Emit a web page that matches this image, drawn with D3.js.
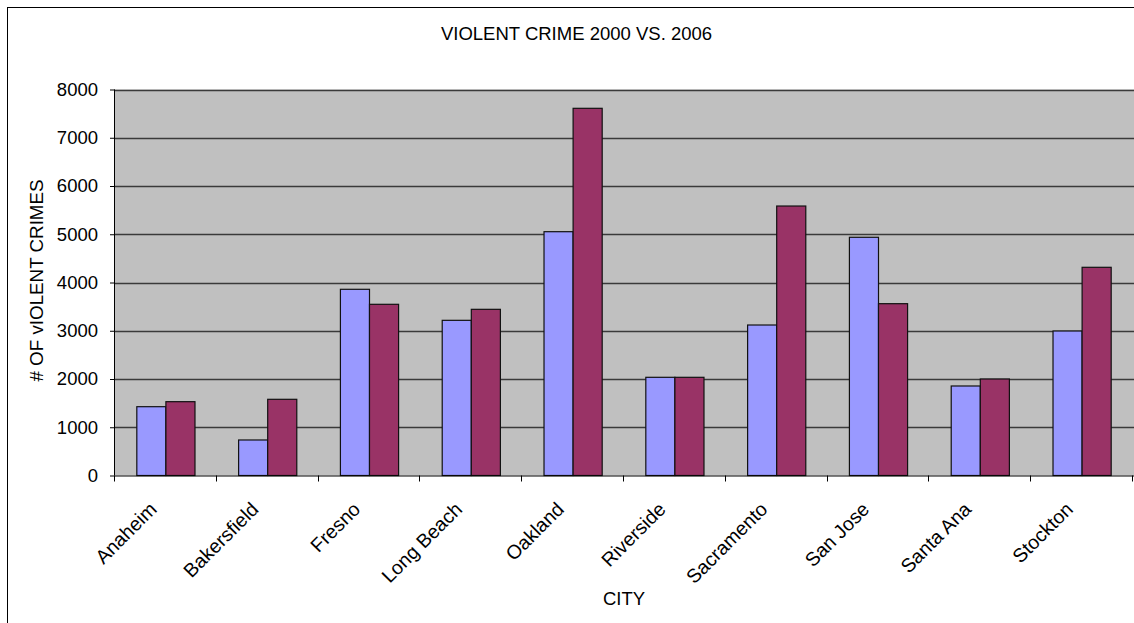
<!DOCTYPE html>
<html>
<head>
<meta charset="utf-8">
<script src="https://cdn.jsdelivr.net/npm/d3@7"></script>
<style>
  html, body { margin: 0; padding: 0; background: #fff; }
  svg { display: block; }
  text { font-family: "Liberation Sans", Arial, sans-serif; fill: #000; }
</style>
</head>
<body>
<svg id="chart" width="1134" height="623"></svg>
<script>
const cities = ["Anaheim", "Bakersfield", "Fresno", "Long Beach", "Oakland", "Riverside", "Sacramento", "San Jose", "Santa Ana", "Stockton"];
const series = ["2000", "2006"];
const values2000 = [1426, 736, 3859, 3216, 5053, 2035, 3119, 4937, 1855, 2995];
const values2006 = [1530, 1579, 3548, 3444, 7610, 2035, 5585, 3561, 2000, 4315];
const yTicks = [0, 1000, 2000, 3000, 4000, 5000, 6000, 7000, 8000];
const colors = ["#9999FF", "#993366"];
const title = "VIOLENT CRIME 2000 VS. 2006";
const xTitle = "CITY";
const yTitle = "# OF vIOLENT CRIMES";

const svg = d3.select("#chart");
const plot = { left: 115, right: 1133, top: 89.5, bottom: 475.5 };

// chart border
svg.append("rect").attr("x", 7.5).attr("y", 7.5).attr("width", 1200).attr("height", 700)
  .attr("fill", "#fff").attr("stroke", "#000").attr("stroke-width", 1);

const x = d3.scaleBand().domain(cities).range([plot.left, plot.right]).paddingInner(0).paddingOuter(0);
const y = d3.scaleLinear().domain([0, 8000]).range([plot.bottom, plot.top]);
// gap width 150%: bar = step / 3.5
const barW = x.step() / 3.5;
const xs = d3.scaleBand().domain(series).range([0, barW * 2]);

// plot background
svg.append("rect").attr("x", plot.left).attr("y", plot.top)
  .attr("width", plot.right - plot.left + 2).attr("height", plot.bottom - plot.top)
  .attr("fill", "#C0C0C0");

// gridlines
svg.append("g").selectAll("line").data(yTicks.filter(d => d > 0)).join("line")
  .attr("x1", plot.left).attr("x2", plot.right + 2)
  .attr("y1", d => Math.round(y(d)) + 0.5).attr("y2", d => Math.round(y(d)) + 0.5)
  .attr("stroke", "#3a3a3a").attr("stroke-width", 1.4);

// bars
const data = cities.map((c, i) => ({ city: c, vals: [values2000[i], values2006[i]] }));
const groups = svg.append("g").selectAll("g").data(data).join("g")
  .attr("transform", d => `translate(${x(d.city) + (x.step() - barW * 2) / 2},0)`);
groups.selectAll("rect").data(d => d.vals.map((v, k) => ({ v, s: series[k], k }))).join("rect")
  .attr("x", d => xs(d.s))
  .attr("y", d => y(d.v))
  .attr("width", xs.bandwidth())
  .attr("height", d => plot.bottom - y(d.v))
  .attr("fill", d => colors[d.k])
  .attr("stroke", "#111").attr("stroke-width", 1.2);

// y axis
const yAxis = d3.axisLeft(y).tickValues(yTicks).tickSize(5).tickPadding(12).tickFormat(d3.format("d"));
const gy = svg.append("g").attr("transform", `translate(${plot.left},0)`).call(yAxis);
gy.select(".domain").attr("stroke", "#000").attr("d", `M-0.5,${plot.top}V${plot.bottom}`);
gy.selectAll(".tick line").attr("stroke", "#000");
gy.selectAll(".tick text").attr("font-size", "18.5px").attr("font-family", "Liberation Sans, Arial, sans-serif").attr("fill", "#000");

// x axis line
svg.append("line").attr("x1", plot.left).attr("x2", plot.right + 2)
  .attr("y1", plot.bottom + 0.5).attr("y2", plot.bottom + 0.5).attr("stroke", "#000");
// x ticks at band boundaries
const bounds = cities.map(c => x(c)).concat([plot.right]);
svg.append("g").selectAll("line").data(bounds).join("line")
  .attr("x1", d => Math.round(d) - 0.5).attr("x2", d => Math.round(d) - 0.5)
  .attr("y1", plot.bottom).attr("y2", plot.bottom + 6).attr("stroke", "#000");

// x labels rotated
svg.append("g").selectAll("text").data(cities).join("text")
  .attr("transform", d => `translate(${x(d) + x.step() / 2 - 8},${plot.bottom + 35}) rotate(-45)`)
  .attr("text-anchor", "end")
  .attr("font-size", "19.5px")
  .text(d => d);

// titles
svg.append("text").attr("x", 576.5).attr("y", 40).attr("text-anchor", "middle")
  .attr("font-size", "18.5px").text(title);
svg.append("text").attr("x", (plot.left + plot.right) / 2).attr("y", 605).attr("text-anchor", "middle")
  .attr("font-size", "18.5px").text(xTitle);
svg.append("text").attr("transform", `translate(43,${(plot.top + plot.bottom) / 2 - 2}) rotate(-90)`)
  .attr("text-anchor", "middle").attr("font-size", "18.8px").text(yTitle);
</script>
</body>
</html>
